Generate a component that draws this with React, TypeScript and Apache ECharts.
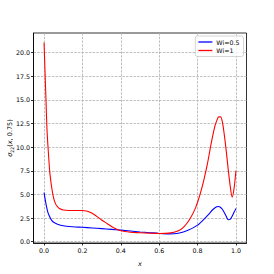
import React, { useEffect, useRef } from "react";
import * as echarts from "echarts";

const xTicks = [0, 0.2, 0.4, 0.6, 0.8, 1.0];
const yTicks = [0, 2.5, 5, 7.5, 10, 12.5, 15, 17.5, 20];

const redX = [0, 0.005, 0.01, 0.015, 0.02, 0.025, 0.03, 0.04, 0.05, 0.06, 0.07, 0.08, 0.1, 0.13, 0.16, 0.2, 0.22, 0.24, 0.27, 0.3, 0.33, 0.36, 0.4, 0.45, 0.5, 0.55, 0.6, 0.65, 0.7, 0.73, 0.76, 0.79, 0.82, 0.85, 0.87, 0.89, 0.9, 0.91, 0.92, 0.93, 0.94, 0.95, 0.96, 0.97, 0.98, 0.99, 1.0];
const redY = [21.06, 18.0, 15.0, 12.0, 10.2, 8.7, 7.3, 5.7, 4.6, 4.0, 3.7, 3.5, 3.35, 3.3, 3.3, 3.3, 3.25, 3.1, 2.75, 2.3, 1.9, 1.5, 1.15, 1.0, 0.95, 0.9, 0.87, 0.9, 1.15, 1.6, 2.4, 3.6, 5.5, 8.1, 10.3, 12.2, 12.8, 13.2, 13.2, 12.6, 11.2, 9.5, 7.6, 5.9, 4.7, 5.6, 7.5];

const blueX = [0, 0.01, 0.02, 0.03, 0.04, 0.05, 0.07, 0.1, 0.15, 0.2, 0.25, 0.3, 0.35, 0.4, 0.45, 0.5, 0.55, 0.6, 0.65, 0.7, 0.75, 0.8, 0.83, 0.86, 0.88, 0.9, 0.91, 0.92, 0.93, 0.94, 0.95, 0.96, 0.97, 0.98, 0.99, 1.0];
const blueY = [5.18, 4.0, 3.1, 2.6, 2.25, 2.05, 1.85, 1.68, 1.58, 1.52, 1.45, 1.38, 1.3, 1.22, 1.13, 1.03, 0.95, 0.87, 0.82, 0.9, 1.2, 1.75, 2.3, 2.95, 3.4, 3.7, 3.72, 3.62, 3.4, 3.05, 2.65, 2.32, 2.35, 2.7, 3.1, 3.5];

const seriesNames = ["Wi=0.5", "Wi=1"];
const yAxisTitle = "{i|σ}{s|22}{n|(}{i|x}{n|, 0.75)}";

export default function App() {
  const ref = useRef<HTMLDivElement>(null);
  useEffect(() => {
    if (!ref.current) return;
    const chart = echarts.init(ref.current, null, { renderer: "svg" });
    const font = "DejaVu Sans";
    const gridLine = { show: true, lineStyle: { color: "#b0b0b0", width: 0.8, type: [2.5, 1.2] } };
    chart.setOption({
      animation: false,
      backgroundColor: "#fff",
      textStyle: { fontFamily: font },
      grid: {
        left: 33.5, right: 27.5, top: 33, bottom: 31,
        outerBoundsMode: "none",
        containLabel: false,
        show: true, borderColor: "#000", borderWidth: 0.8, backgroundColor: "transparent",
      },
      graphic: [
        {
          type: "text", x: 10, y: 138, rotation: Math.PI / 2,
          style: {
            text: yAxisTitle, align: "center", verticalAlign: "middle", fill: "#000",
            fontFamily: font, fontSize: 6.5,
            rich: {
              i: { fontStyle: "italic", fontSize: 6.5, fontFamily: font, lineHeight: 10, verticalAlign: "middle", fill: "#000" },
              n: { fontSize: 6.5, fontFamily: font, lineHeight: 10, verticalAlign: "middle", fill: "#000" },
              s: { fontSize: 4.6, fontFamily: font, lineHeight: 10, verticalAlign: "bottom", fill: "#000" },
            },
          },
        },
      ],
      legend: {
        data: seriesNames,
        orient: "vertical",
        right: 30.5, top: 36,
        icon: "rect",
        itemWidth: 14, itemHeight: 1.3,
        itemGap: 2.5,
        padding: [3, 4, 3, 3],
        borderColor: "#cccccc", borderWidth: 0.8, borderRadius: 2,
        backgroundColor: "rgba(255,255,255,0.8)",
        textStyle: { fontFamily: font, fontSize: 6.3, color: "#000", padding: [0, 0, 0, -1], lineHeight: 6 },
      },
      xAxis: {
        type: "value", min: -0.055, max: 1.055,
        name: "x", nameLocation: "middle", nameGap: 17,
        nameTextStyle: { fontFamily: font, fontSize: 6.5, fontStyle: "italic", color: "#000" },
        axisLine: { show: true, onZero: false, lineStyle: { color: "#000", width: 0.8 } },
        axisTick: { show: true, customValues: xTicks, length: 2.5, lineStyle: { color: "#000", width: 0.8 } },
        axisLabel: { customValues: xTicks, fontSize: 6.3, color: "#000", margin: 4, formatter: (v: number) => v.toFixed(1) },
        splitLine: gridLine,
      },
      yAxis: {
        type: "value", min: -0.14, max: 22.07,
        axisLine: { show: true, onZero: false, lineStyle: { color: "#000", width: 0.8 } },
        axisTick: { show: true, customValues: yTicks, length: 2.5, lineStyle: { color: "#000", width: 0.8 } },
        axisLabel: { customValues: yTicks, fontSize: 6.3, color: "#000", margin: 3.5, formatter: (v: number) => v.toFixed(1) },
        splitLine: gridLine,
      },
      series: [
        {
          name: seriesNames[0], type: "line", showSymbol: false, smooth: 0.25,
          data: blueX.map((x, i) => [x, blueY[i]]),
          lineStyle: { color: "#0000ff", width: 1.1 }, itemStyle: { color: "#0000ff" },
        },
        {
          name: seriesNames[1], type: "line", showSymbol: false, smooth: 0.25,
          data: redX.map((x, i) => [x, redY[i]]),
          lineStyle: { color: "#ff0000", width: 1.1 }, itemStyle: { color: "#ff0000" },
        },
      ],
    });
    return () => chart.dispose();
  }, []);
  return <div ref={ref} style={{ position: "fixed", left: 0, top: 0, width: 274, height: 274 }} />;
}
